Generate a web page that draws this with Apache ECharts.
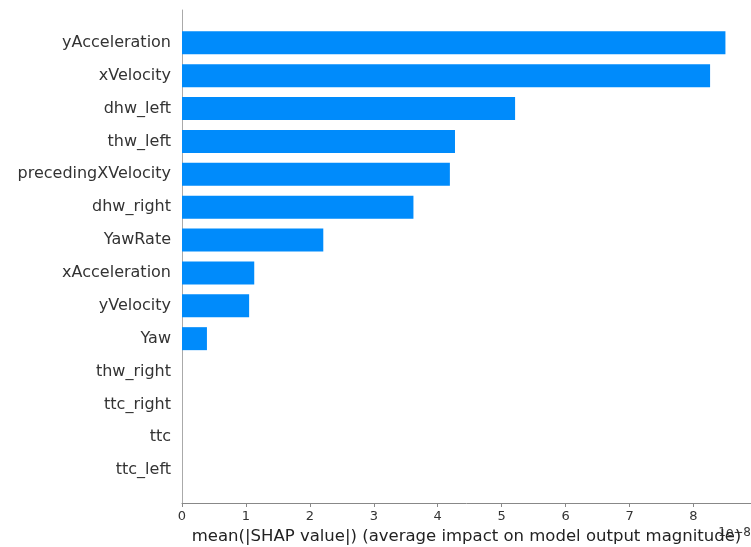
<!DOCTYPE html>
<html>
<head>
<meta charset="utf-8">
<script src="https://cdn.jsdelivr.net/npm/echarts@6/dist/echarts.min.js"></script>
<style>html,body{margin:0;padding:0;background:#fff}#c{width:751px;height:547px}</style>
</head>
<body>
<div id="c"></div>
<script>
var features = ["yAcceleration","xVelocity","dhw_left","thw_left","precedingXVelocity","dhw_right","YawRate","xAcceleration","yVelocity","Yaw","thw_right","ttc_right","ttc","ttc_left"];
var shapValues = [8.50, 8.26, 5.21, 4.27, 4.19, 3.62, 2.21, 1.13, 1.05, 0.39, 0, 0, 0, 0];
var xTicks = [0,1,2,3,4,5,6,7,8];
var xTitle = "mean(|SHAP value|) (average impact on model output magnitude)";
var offsetText = "1e\u22128";

// pad one empty slot above and below (matplotlib ylim -1 .. n)
var yCats = [""].concat(features, [""]);
var barData = [null].concat(shapValues, [null]);

var chart = echarts.init(document.getElementById('c'), null, {renderer:'canvas'});
var font = "DejaVu Sans";
chart.setOption({
  animation: false,
  grid: {left: 182, right: 0, top: 10, bottom: 44, containLabel: false, outerBoundsMode: 'none'},
  xAxis: {
    type: 'value', min: 0, max: 8.9, interval: 1,
    splitLine: {show: false},
    axisLine: {show: true, onZero: false, lineStyle: {color: '#888', width: 1}},
    axisTick: {show: true, length: 4, lineStyle: {color: '#888'}, customValues: xTicks},
    axisLabel: {color: '#333', fontFamily: font, fontSize: 13, margin: 7, customValues: xTicks},
    name: xTitle, nameLocation: 'middle', nameGap: 25,
    nameTextStyle: {color: '#222', fontFamily: font, fontSize: 16.5}
  },
  yAxis: {
    type: 'category', data: yCats, boundaryGap: false, inverse: true,
    splitLine: {show: false},
    axisLine: {show: true, onZero: false, lineStyle: {color: '#aaa', width: 1}},
    axisTick: {show: false},
    axisLabel: {color: '#333', fontFamily: font, fontSize: 16, margin: 11, interval: 0}
  },
  series: [{
    type: 'bar',
    barWidth: 23,
    itemStyle: {color: '#008bfb'},
    data: barData
  }],
  graphic: [{
    type: 'text', right: 0, top: 527,
    style: {text: offsetText, fill: '#333', font: '12px "DejaVu Sans"'}
  }]
});
</script>
</body>
</html>
